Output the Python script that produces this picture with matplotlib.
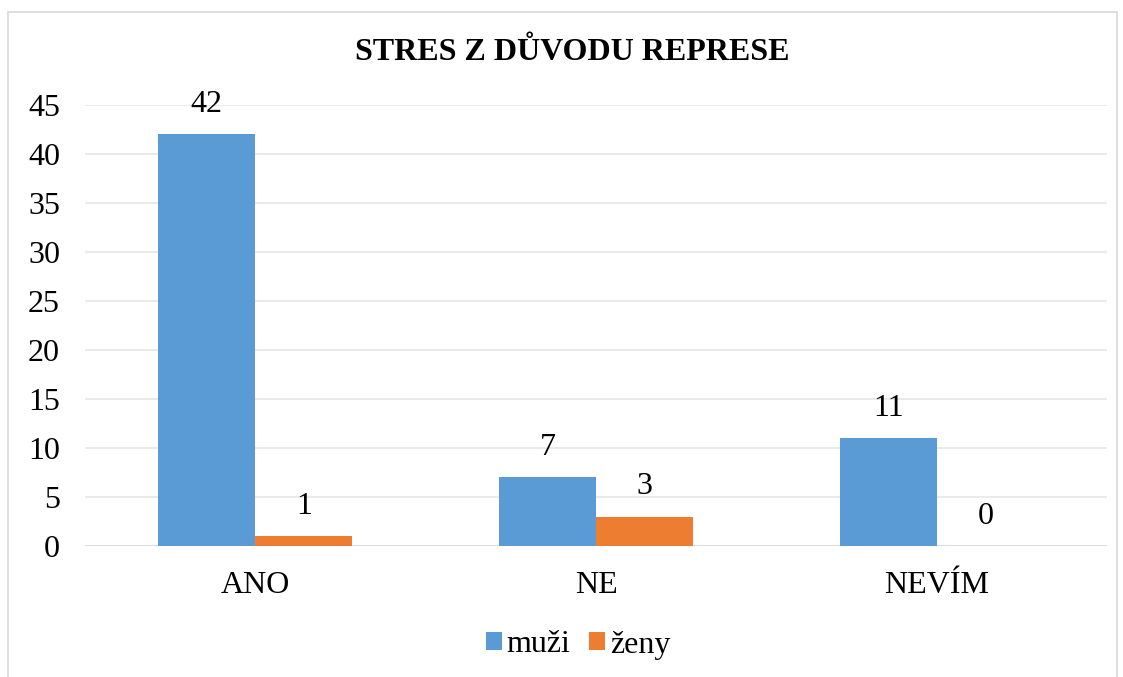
import matplotlib.pyplot as plt
import matplotlib.patches as mpatches
import numpy as np

plt.rcParams['font.family'] = ['Liberation Serif', 'DejaVu Serif']

categories = ['ANO', 'NE', 'NEVÍM']
muzi = [42, 7, 11]
zeny = [1, 3, 0]
series_names = ['muži', 'ženy']
colors = ['#5b9bd5', '#ed7d31']

fig = plt.figure(figsize=(11.23, 6.77), dpi=100)
ax = fig.add_axes([0.0757, 0.1935, 0.9101, 0.6514])

# chart frame like in excel
fig.patches.append(mpatches.Rectangle((8 / 1123, -0.05), 1109 / 1123, 1.05 - 12 / 677,
                                      transform=fig.transFigure, fill=False,
                                      edgecolor='#d9d9d9', linewidth=1.2))

x = np.arange(len(categories))
w = 0.285
b1 = ax.bar(x - w / 2, muzi, w, color=colors[0], label=series_names[0], zorder=3)
b2 = ax.bar(x + w / 2, zeny, w, color=colors[1], label=series_names[1], zorder=3)

for bars in (b1, b2):
    ax.bar_label(bars, padding=11, fontsize=23)

ax.set_xlim(-0.5, 2.5)
ax.set_ylim(0, 45)
ax.set_yticks(range(0, 46, 5))
ax.set_xticks(x)
ax.set_xticklabels(categories)
ax.tick_params(axis='both', length=0, labelsize=23)
ax.tick_params(axis='y', pad=18)
ax.tick_params(axis='x', pad=18)
ax.grid(axis='y', color='#e6e6e6', linewidth=1.2, zorder=0)
for s in ax.spines.values():
    s.set_visible(False)
ax.axhline(0, color='#d9d9d9', linewidth=1.2, zorder=2)

fig.text(572 / 1123, 1 - 52 / 677, 'STRES Z DŮVODU REPRESE', ha='center', va='center',
         fontsize=23, fontweight='bold')

fig.legend(loc='center', bbox_to_anchor=(578 / 1123, 1 - 645 / 677), ncol=2,
           frameon=False, fontsize=23, handlelength=0.5, handleheight=0.5,
           handletextpad=0.15, columnspacing=0.6)

fig.savefig('out.png', dpi=100)
